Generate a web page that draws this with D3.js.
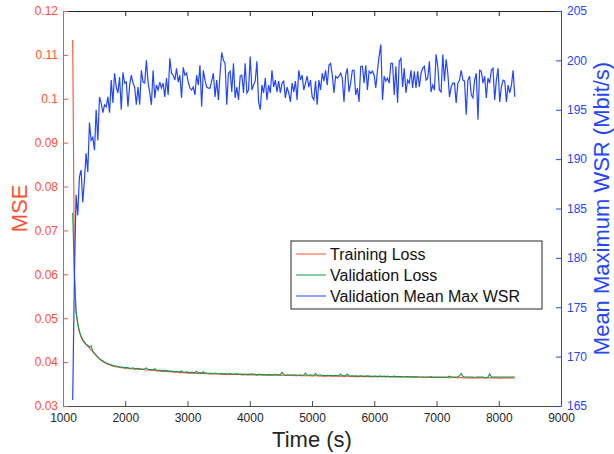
<!DOCTYPE html>
<html>
<head>
<meta charset="utf-8">
<script src="https://cdn.jsdelivr.net/npm/d3@7"></script>
<style>
  body { margin: 0; background: #fff; }
  text { font-family: "Liberation Sans", Arial, Helvetica, sans-serif; }
</style>
</head>
<body>
<div id="vis"></div>
<script>
// frame and margins
const FRAME_WIDTH = 614;
const FRAME_HEIGHT = 454;
const MARGINS = {left: 63, right: 53, top: 11, bottom: 48};

// sampling of the logged values (seconds)
const TIME_START = 1156;
const TIME_STEP = 26.9;

// tick labels
const X_TICKS = [1000, 2000, 3000, 4000, 5000, 6000, 7000, 8000, 9000];
const Y_LEFT_TICKS = [0.03, 0.04, 0.05, 0.06, 0.07, 0.08, 0.09, 0.1, 0.11, 0.12];
const Y_RIGHT_TICKS = [165, 170, 175, 180, 185, 190, 195, 200, 205];

const SERIES_NAMES = ["Training Loss", "Validation Loss", "Validation Mean Max WSR"];

// training loss (MSE)
const TRAIN_LOSS = [
  .1134,.0610,.0512,.0487,.0468,.0457,.0449,.0444,.0440,.0436,
  .0432,.0428,.0423,.0419,.0415,.0411,.0407,.0404,.0401,.0399,
  .0397,.0395,.0394,.0392,.0391,.0390,.0389,.0389,.0388,.0387,
  .0387,.0386,.0386,.0386,.0385,.0385,.0385,.0384,.0384,.0384,
  .0383,.0383,.0383,.0382,.0382,.0382,.0382,.0381,.0381,.0381,
  .0380,.0380,.0380,.0379,.0379,.0379,.0379,.0378,.0378,.0378,
  .0377,.0377,.0377,.0377,.0376,.0376,.0376,.0376,.0376,.0375,
  .0375,.0375,.0375,.0375,.0374,.0374,.0374,.0374,.0374,.0374,
  .0374,.0373,.0373,.0373,.0373,.0373,.0373,.0373,.0373,.0372,
  .0372,.0372,.0372,.0372,.0372,.0372,.0372,.0372,.0372,.0372,
  .0372,.0371,.0371,.0372,.0371,.0371,.0371,.0371,.0371,.0371,
  .0370,.0371,.0371,.0371,.0370,.0371,.0370,.0370,.0370,.0370,
  .0370,.0371,.0370,.0370,.0370,.0370,.0370,.0369,.0370,.0370,
  .0370,.0369,.0370,.0369,.0369,.0370,.0369,.0369,.0369,.0369,
  .0369,.0369,.0369,.0368,.0369,.0369,.0369,.0368,.0369,.0368,
  .0368,.0368,.0368,.0369,.0368,.0368,.0368,.0368,.0368,.0368,
  .0368,.0368,.0367,.0368,.0368,.0368,.0367,.0368,.0367,.0367,
  .0367,.0367,.0368,.0367,.0367,.0367,.0367,.0367,.0367,.0367,
  .0367,.0367,.0366,.0367,.0367,.0367,.0367,.0366,.0367,.0367,
  .0366,.0366,.0367,.0366,.0366,.0366,.0366,.0366,.0366,.0366,
  .0366,.0366,.0366,.0366,.0365,.0366,.0366,.0366,.0365,.0366,
  .0365,.0365,.0366,.0365,.0365,.0365,.0365,.0365,.0365,.0365,
  .0365,.0365,.0365,.0365,.0365,.0364,.0365,.0365,.0365,.0365,
  .0364,.0365,.0365,.0364,.0364,.0365,.0364,.0364,.0364,.0364,
  .0364,.0364,.0364,.0364,.0364,.0364,.0364,.0364,.0364,.0364,
  .0364,.0364,.0364,.0364,.0364,.0363,.0364,.0364,.0364,.0364,
  .0364,.0364,.0364,.0364,.0364
];

// validation loss (MSE)
const VAL_LOSS = [
  .0740,.0598,.0515,.0489,.0470,.0459,.0451,.0446,.0441,.0438,
  .0434,.0437,.0425,.0420,.0416,.0412,.0408,.0405,.0403,.0400,
  .0398,.0397,.0395,.0394,.0392,.0391,.0391,.0390,.0389,.0389,
  .0388,.0387,.0388,.0387,.0386,.0386,.0387,.0385,.0385,.0386,
  .0385,.0384,.0384,.0385,.0387,.0383,.0383,.0383,.0382,.0385,
  .0382,.0381,.0382,.0380,.0381,.0380,.0381,.0379,.0380,.0379,
  .0379,.0378,.0379,.0378,.0378,.0380,.0377,.0377,.0378,.0377,
  .0376,.0377,.0376,.0376,.0379,.0375,.0376,.0375,.0378,.0375,
  .0375,.0374,.0375,.0374,.0374,.0375,.0374,.0373,.0374,.0374,
  .0373,.0374,.0373,.0373,.0374,.0373,.0372,.0373,.0374,.0372,
  .0373,.0372,.0373,.0372,.0372,.0373,.0372,.0374,.0372,.0372,
  .0371,.0372,.0372,.0371,.0372,.0371,.0371,.0372,.0371,.0371,
  .0371,.0372,.0371,.0371,.0371,.0377,.0372,.0370,.0371,.0371,
  .0370,.0371,.0370,.0371,.0370,.0370,.0371,.0370,.0370,.0375,
  .0370,.0370,.0371,.0370,.0370,.0374,.0370,.0370,.0371,.0369,
  .0370,.0369,.0370,.0369,.0370,.0369,.0369,.0370,.0369,.0369,
  .0373,.0369,.0369,.0369,.0373,.0369,.0368,.0369,.0368,.0369,
  .0368,.0368,.0369,.0368,.0368,.0368,.0369,.0368,.0368,.0367,
  .0368,.0368,.0367,.0368,.0368,.0367,.0368,.0367,.0368,.0367,
  .0367,.0367,.0368,.0367,.0367,.0367,.0367,.0367,.0366,.0367,
  .0367,.0367,.0366,.0367,.0366,.0367,.0366,.0366,.0366,.0366,
  .0366,.0366,.0366,.0366,.0367,.0366,.0366,.0366,.0366,.0366,
  .0366,.0366,.0366,.0366,.0366,.0368,.0366,.0366,.0366,.0366,
  .0366,.0369,.0374,.0367,.0366,.0366,.0366,.0366,.0366,.0366,
  .0365,.0366,.0366,.0366,.0366,.0366,.0365,.0365,.0366,.0373,
  .0366,.0366,.0366,.0366,.0366,.0366,.0366,.0366,.0366,.0366,
  .0366,.0366,.0366,.0366,.0366
];

// validation mean max WSR (Mbit/s)
const VAL_WSR = [
  165.6,178.0,
  186.4,184.3,188.2,188.9,185.6,187.9,190.6,188.7,193.7,191.9,
  192.2,190.9,195.0,191.9,196.3,195.7,194.7,195.5,195.3,196.3,
  194.7,198.0,195.7,198.7,197.3,196.7,198.3,195.0,198.8,197.7,
  197.8,195.3,197.5,198.5,197.7,197.3,195.5,197.3,195.5,199.0,
  197.8,197.7,200.0,197.8,196.7,195.5,199.0,196.2,197.5,197.0,
  197.8,197.2,197.7,196.3,198.2,196.5,200.2,198.7,198.5,198.0,
  199.2,197.8,198.5,196.2,199.3,198.5,198.7,197.8,197.2,197.0,
  197.3,196.5,198.5,197.5,
  199.5,195.3,199.0,198.0,197.3,197.2,197.2,197.9,198.7,196.3,
  198.0,196.0,198.7,200.8,200.0,199.7,195.5,198.7,198.9,196.8,
  199.7,196.2,197.3,196.0,198.4,198.5,196.7,199.7,196.7,197.0,
  200.4,197.0,197.5,197.9,199.9,195.8,195.0,197.5,196.7,198.2,
  196.0,197.5,196.7,199.0,197.3,198.0,196.8,197.9,196.7,197.7,
  197.9,196.2,197.3,196.7,195.8,197.7,196.8,197.9,196.0,199.0,
  198.0,198.5,197.0,197.7,198.4,197.3,198.0,196.3,196.0,197.9,
  195.5,198.0,197.0,198.7,197.9,199.0,197.5,199.5,199.7,198.5,
  196.7,198.4,198.2,198.4,198.7,198.2,195.8,198.5,199.2,196.8,
  197.7,199.0,199.0,196.5,197.2,195.8,199.4,199.4,197.7,199.5,
  197.0,198.9,
  198.7,198.9,198.5,197.2,199.0,200.4,201.6,196.0,198.4,197.9,
  198.2,197.7,199.7,199.7,196.5,199.4,195.7,199.9,200.2,197.3,
  199.2,196.7,198.0,197.7,199.0,197.2,198.9,197.2,198.9,197.3,
  198.7,199.2,199.4,198.0,198.2,199.9,196.8,197.5,197.0,200.6,
  199.4,197.0,196.8,200.6,197.9,200.1,198.7,196.3,197.3,197.7,
  197.7,195.7,197.7,198.0,199.0,198.0,197.9,194.5,198.0,198.4,
  196.5,196.2,198.0,198.7,194.0,199.0,198.9,197.7,198.4,196.2,
  198.2,197.7,199.0,199.2,196.0,198.0,199.2,195.8,197.3,198.0,
  197.9,195.8,197.5,196.7,197.5,199.0,196.3
];

const COLOR_RED = "#ff5030";
const COLOR_GREEN = "#12944a";
const COLOR_BLUE = "#2345ff";
const COLOR_AXIS = "#262626";

const VIS_WIDTH = FRAME_WIDTH - MARGINS.left - MARGINS.right;
const VIS_HEIGHT = FRAME_HEIGHT - MARGINS.top - MARGINS.bottom;

const FRAME = d3.select("#vis")
  .append("svg")
    .attr("width", FRAME_WIDTH)
    .attr("height", FRAME_HEIGHT);

// scales
const X_SCALE = d3.scaleLinear().domain([1000, 9000])
  .range([MARGINS.left, MARGINS.left + VIS_WIDTH]);
const Y_LEFT = d3.scaleLinear().domain([0.03, 0.12])
  .range([MARGINS.top + VIS_HEIGHT, MARGINS.top]);
const Y_RIGHT = d3.scaleLinear().domain([165, 205])
  .range([MARGINS.top + VIS_HEIGHT, MARGINS.top]);

const timeOf = (i) => TIME_START + i * TIME_STEP;

// lines
const lossLine = d3.line()
  .x((d, i) => X_SCALE(timeOf(i)))
  .y((d) => Y_LEFT(d));
const wsrLine = d3.line()
  .x((d, i) => X_SCALE(timeOf(i)))
  .y((d) => Y_RIGHT(d));

FRAME.append("path").datum(TRAIN_LOSS)
  .attr("d", lossLine).attr("fill", "none")
  .attr("stroke", COLOR_RED).attr("stroke-width", 1.1);
FRAME.append("path").datum(VAL_LOSS)
  .attr("d", lossLine).attr("fill", "none")
  .attr("stroke", COLOR_GREEN).attr("stroke-width", 1.1);
FRAME.append("path").datum(VAL_WSR)
  .attr("d", wsrLine).attr("fill", "none")
  .attr("stroke", COLOR_BLUE).attr("stroke-width", 1.2);

// axes
const axisBottomG = FRAME.append("g")
  .attr("transform", "translate(0," + (MARGINS.top + VIS_HEIGHT) + ")")
  .call(d3.axisBottom(X_SCALE).tickValues(X_TICKS)
    .tickSizeInner(-5).tickSizeOuter(0).tickPadding(7)
    .tickFormat(d3.format("d")));
axisBottomG.select(".domain").attr("stroke", "#4a4a4a").attr("stroke-width", 1.2);
axisBottomG.selectAll(".tick line").attr("stroke", "#4a4a4a");
axisBottomG.selectAll("text").attr("font-size", 12).attr("fill", COLOR_AXIS)
  .style("font-family", "'Liberation Sans', Arial, sans-serif");

const axisTopG = FRAME.append("g")
  .attr("transform", "translate(0," + MARGINS.top + ")")
  .call(d3.axisTop(X_SCALE).tickValues(X_TICKS)
    .tickSizeInner(-5).tickSizeOuter(0).tickFormat(""));
axisTopG.select(".domain").attr("stroke", COLOR_AXIS);
axisTopG.selectAll(".tick line").attr("stroke", COLOR_AXIS);

const axisLeftG = FRAME.append("g")
  .attr("transform", "translate(" + MARGINS.left + ",0)")
  .call(d3.axisLeft(Y_LEFT).tickValues(Y_LEFT_TICKS)
    .tickSizeInner(-5).tickSizeOuter(0).tickPadding(5)
    .tickFormat((d) => String(+d.toFixed(2))));
axisLeftG.select(".domain").attr("stroke", COLOR_RED);
axisLeftG.selectAll(".tick line").attr("stroke", COLOR_RED);
axisLeftG.selectAll("text").attr("font-size", 12).attr("fill", COLOR_RED)
  .style("font-family", "'Liberation Sans', Arial, sans-serif");

const axisRightG = FRAME.append("g")
  .attr("transform", "translate(" + (MARGINS.left + VIS_WIDTH) + ",0)")
  .call(d3.axisRight(Y_RIGHT).tickValues(Y_RIGHT_TICKS)
    .tickSizeInner(-5).tickSizeOuter(0).tickPadding(6));
axisRightG.select(".domain").attr("stroke", COLOR_BLUE);
axisRightG.selectAll(".tick line").attr("stroke", COLOR_BLUE);
axisRightG.selectAll("text").attr("font-size", 12).attr("fill", COLOR_BLUE)
  .style("font-family", "'Liberation Sans', Arial, sans-serif");

// axis titles
FRAME.append("text")
  .attr("transform", "translate(27," + (MARGINS.top + VIS_HEIGHT / 2) + ") rotate(-90)")
  .attr("text-anchor", "middle")
  .attr("font-size", 22).attr("fill", COLOR_RED)
  .text("MSE");

FRAME.append("text")
  .attr("transform", "translate(609," + (MARGINS.top + VIS_HEIGHT / 2) + ") rotate(-90)")
  .attr("text-anchor", "middle")
  .attr("font-size", 22).attr("fill", COLOR_BLUE)
  .text("Mean Maximum WSR (Mbit/s)");

FRAME.append("text")
  .attr("x", MARGINS.left + VIS_WIDTH / 2)
  .attr("y", 447)
  .attr("text-anchor", "middle")
  .attr("font-size", 22).attr("fill", COLOR_AXIS)
  .text("Time (s)");

// legend
const LEGEND = FRAME.append("g").attr("transform", "translate(291,241)");
LEGEND.append("rect")
  .attr("width", 251).attr("height", 68)
  .attr("fill", "#fff").attr("stroke", COLOR_AXIS).attr("stroke-width", 1);

const legendColors = [COLOR_RED, COLOR_GREEN, COLOR_BLUE];
const rows = LEGEND.selectAll(".row")
  .data(SERIES_NAMES)
  .enter()
  .append("g")
    .attr("transform", (d, i) => "translate(0," + (13 + i * 21) + ")");
rows.append("line")
  .attr("x1", 5).attr("x2", 35)
  .attr("stroke", (d, i) => legendColors[i]).attr("stroke-width", 1);
rows.append("text")
  .attr("x", 39).attr("y", 5.5)
  .attr("font-size", 16).attr("fill", "#111")
  .text((d) => d);
</script>
</body>
</html>
